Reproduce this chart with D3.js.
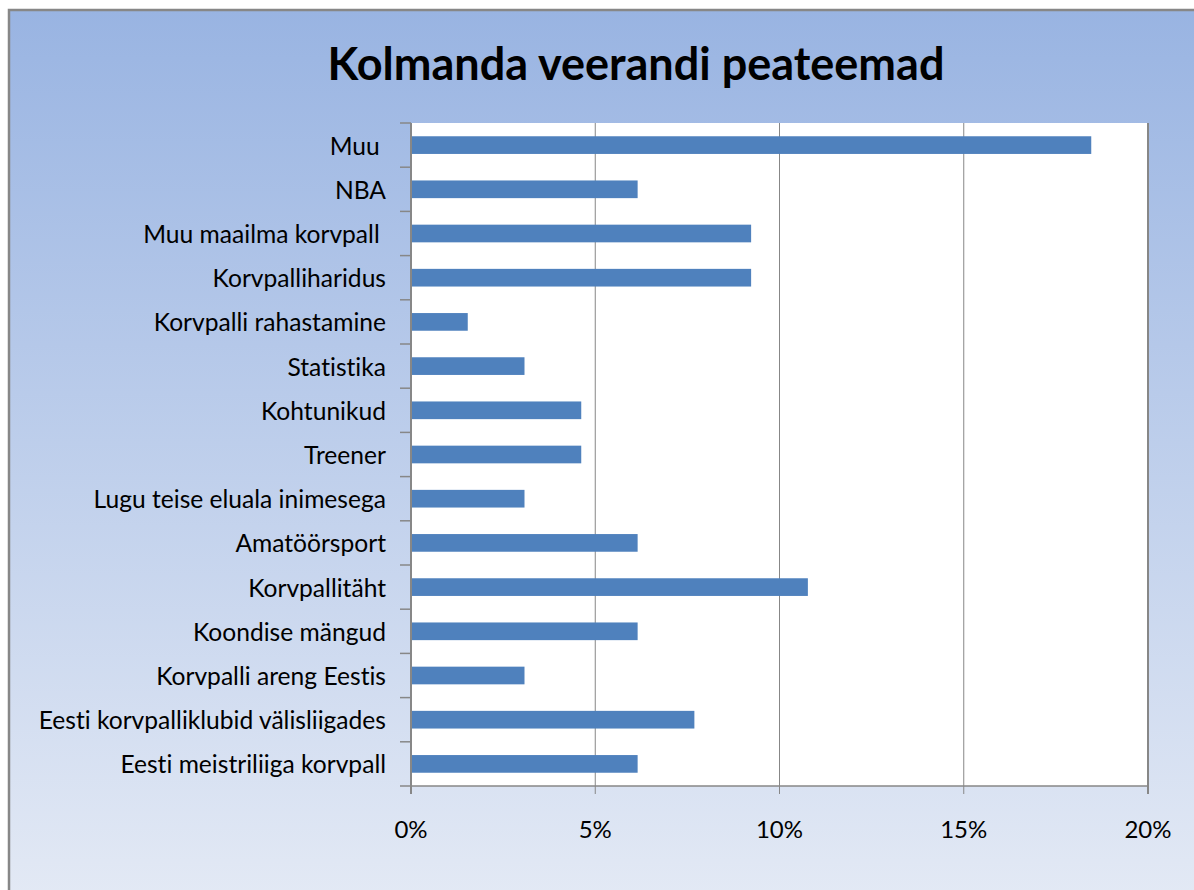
<!DOCTYPE html>
<html>
<head>
<meta charset="utf-8">
<script src="https://cdn.jsdelivr.net/npm/d3@7"></script>
<style>
  body { margin: 0; background: #fff; }
  text { font-family: Lato, "Open Sans", sans-serif; fill: #000; font-variant-ligatures: none; }
</style>
</head>
<body>
<div id="chart"></div>
<script>
// teemad ülevalt alla, nagu pildil
var categories = ["Muu ", "NBA", "Muu maailma korvpall ", "Korvpalliharidus", "Korvpalli rahastamine",
  "Statistika", "Kohtunikud", "Treener", "Lugu teise eluala inimesega", "Amatöörsport",
  "Korvpallitäht", "Koondise mängud", "Korvpalli areng Eestis",
  "Eesti korvpalliklubid välisliigades", "Eesti meistriliiga korvpall"];
var values = [18.46, 6.15, 9.23, 9.23, 1.54, 3.08, 4.62, 4.62, 3.08, 6.15, 10.77, 6.15, 3.08, 7.69, 6.15];
var xTicks = [0, 5, 10, 15, 20];
var title = "Kolmanda veerandi peateemad";

var W = 1194, H = 890;
var margin = {top: 123, right: 46, bottom: 104, left: 411},
    width = W - margin.left - margin.right,
    height = H - margin.top - margin.bottom;

var svg = d3.select("#chart").append("svg")
    .attr("width", W)
    .attr("height", H);

var grad = svg.append("defs").append("linearGradient")
    .attr("id", "bg")
    .attr("x1", 0).attr("y1", 0).attr("x2", 0).attr("y2", 1);
grad.append("stop").attr("offset", "0%").attr("stop-color", "#99b4e2");
grad.append("stop").attr("offset", "100%").attr("stop-color", "#e4eaf5");

// taust ja raam (läheb pildist välja paremal ja all)
svg.append("rect")
    .attr("x", 9).attr("y", 10)
    .attr("width", 1400).attr("height", 900)
    .attr("fill", "url(#bg)")
    .attr("stroke", "#878787")
    .attr("stroke-width", 2.5);

svg.append("text")
    .attr("x", 636)
    .attr("y", 63)
    .attr("text-anchor", "middle")
    .attr("dominant-baseline", "central")
    .style("font-size", "45px")
    .style("font-weight", "bold")
    .text(title);

var g = svg.append("g")
    .attr("transform", "translate(" + margin.left + "," + margin.top + ")");

var x = d3.scaleLinear()
    .domain([0, 20])
    .range([0, width]);

var y = d3.scaleBand()
    .domain(categories)
    .range([0, height])
    .paddingInner(0.6)
    .paddingOuter(0.3);

g.append("rect")
    .attr("width", width)
    .attr("height", height)
    .attr("fill", "#fff");

// ruudustik
g.selectAll(".grid")
    .data(xTicks.slice(1))
    .enter().append("line")
    .attr("x1", function(d) { return x(d); })
    .attr("x2", function(d) { return x(d); })
    .attr("y1", 0)
    .attr("y2", height + 8)
    .attr("stroke", "#878787")
    .attr("stroke-width", function(d) { return d == 20 ? 2 : 1; });

g.selectAll(".bar")
    .data(values)
    .enter().append("rect")
    .attr("x", 1)
    .attr("y", function(d, i) { return y(categories[i]); })
    .attr("height", y.bandwidth())
    .attr("width", function(d) { return x(d) - 1; })
    .attr("fill", "#4f81bd");

// kategooria piirid
var step = y.step();
var bounds = categories.map(function(c) { return y(c) - step * 0.3; }).concat([height]);
g.selectAll(".ytick")
    .data(bounds)
    .enter().append("line")
    .attr("x1", -11).attr("x2", 0)
    .attr("y1", function(d) { return d; })
    .attr("y2", function(d) { return d; })
    .attr("stroke", "#878787")
    .attr("stroke-width", 1.5);

g.append("line")
    .attr("x1", 0).attr("x2", 0)
    .attr("y1", 0).attr("y2", height + 8)
    .attr("stroke", "#878787")
    .attr("stroke-width", 2);

g.append("line")
    .attr("x1", 0).attr("x2", width)
    .attr("y1", height).attr("y2", height)
    .attr("stroke", "#878787")
    .attr("stroke-width", 1.5);

g.selectAll(".ylab")
    .data(categories)
    .enter().append("text")
    .attr("x", -25)
    .attr("y", function(d) { return y(d) + y.bandwidth() / 2; })
    .attr("text-anchor", "end")
    .attr("dominant-baseline", "central")
    .style("font-size", "24.6px")
    .style("white-space", "pre")
    .text(function(d) { return d; });

g.selectAll(".xlab")
    .data(xTicks)
    .enter().append("text")
    .attr("x", function(d) { return x(d); })
    .attr("y", height + 42)
    .attr("text-anchor", "middle")
    .attr("dominant-baseline", "central")
    .style("font-size", "24px")
    .text(function(d) { return d + "%"; });
</script>
</body>
</html>
